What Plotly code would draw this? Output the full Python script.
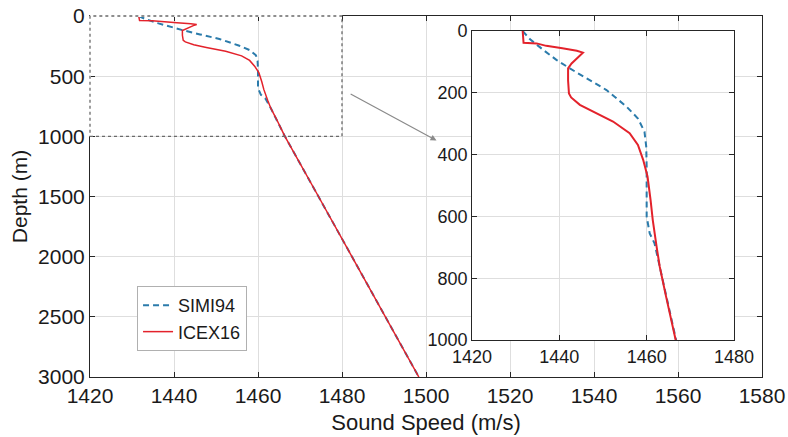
import plotly.graph_objects as go

# ---- data ----
depth_icex = [0, 38, 40, 48, 56, 64, 70, 80, 105, 121, 160, 202, 215, 239, 261, 293, 331, 369,
              417, 471, 547, 612, 700, 763, 850, 1000, 1500, 2000, 2500, 3000]
speed_icex = [1431.6, 1431.8, 1434.8, 1437.0, 1440.7, 1444.0, 1445.4, 1444.6, 1442.8, 1442.0,
              1442.0, 1442.2, 1442.7, 1444.7, 1447.7, 1452.3, 1456.1, 1458.0, 1459.2, 1460.2,
              1460.9, 1461.4, 1462.3, 1463.0, 1464.3, 1466.4, 1474.4, 1482.3, 1490.3, 1498.3]

depth_simi = [0, 27, 61, 94, 121, 153, 191, 245, 283, 326, 374, 439, 547, 601, 655, 687, 763,
              1000, 1500, 2000, 2500, 3000]
speed_simi = [1431.6, 1433.3, 1436.3, 1439.4, 1442.4, 1446.2, 1450.8, 1455.4, 1458.0, 1459.5,
              1459.9, 1460.0, 1460.1, 1460.0, 1460.7, 1461.8, 1463.0, 1466.4, 1474.4, 1482.3,
              1490.3, 1498.3]

main_xticks = [1420, 1440, 1460, 1480, 1500, 1520, 1540, 1560, 1580]
main_yticks = [0, 500, 1000, 1500, 2000, 2500, 3000]
inset_xticks = [1420, 1440, 1460, 1480]
inset_yticks = [0, 200, 400, 600, 800, 1000]

zoom_box_x = [1420, 1480]
zoom_box_y = [0, 1000]

BLUE = "#2b7bab"
RED = "#e3222b"
FONT = "Liberation Sans, Arial, sans-serif"
AX = "#262626"
GRID = "#dedede"

fig = go.Figure()

fig.add_trace(go.Scatter(x=speed_simi, y=depth_simi, mode="lines", name="SIMI94",
                         line=dict(color=BLUE, width=2, dash="6px,4px"),
                         xaxis="x", yaxis="y"))
fig.add_trace(go.Scatter(x=speed_icex, y=depth_icex, mode="lines", name="ICEX16",
                         line=dict(color=RED, width=1.5),
                         xaxis="x", yaxis="y"))
fig.add_trace(go.Scatter(x=speed_simi, y=depth_simi, mode="lines", name="SIMI94",
                         line=dict(color=BLUE, width=2, dash="6px,4px"),
                         xaxis="x2", yaxis="y2", showlegend=False))
fig.add_trace(go.Scatter(x=speed_icex, y=depth_icex, mode="lines", name="ICEX16",
                         line=dict(color=RED, width=2),
                         xaxis="x2", yaxis="y2", showlegend=False))

common = dict(showline=True, linecolor=AX, linewidth=1, mirror="ticks",
              ticks="inside", ticklen=5, tickcolor=AX, automargin=False,
              showgrid=True, gridcolor=GRID, gridwidth=1, zeroline=False)

fig.update_layout(
    width=788, height=437,
    margin=dict(l=90, r=26, t=16, b=60),
    paper_bgcolor="white", plot_bgcolor="white",
    font=dict(family=FONT, color="#1a1a1a"),
    showlegend=True,
    legend=dict(x=0.07, y=0.252, xanchor="left", yanchor="top",
                bgcolor="white", bordercolor="#b0b0b0", borderwidth=1,
                font=dict(size=18, family=FONT), itemwidth=30, tracegroupgap=0),
    xaxis=dict(domain=[0, 1], range=[1420, 1580], tickvals=main_xticks,
               title=dict(text="Sound Speed (m/s)", font=dict(size=22), standoff=8),
               tickfont=dict(size=21), **common),
    yaxis=dict(domain=[0, 1], range=[3000, 0], tickvals=main_yticks,
               title=dict(text="Depth (m)", font=dict(size=21), standoff=4),
               tickfont=dict(size=21), **common),
    xaxis2=dict(domain=[0.5685, 0.9583], anchor="y2", range=[1420, 1480],
                tickvals=inset_xticks, tickfont=dict(size=18), **common),
    yaxis2=dict(domain=[0.1025, 0.9584], anchor="x2", range=[1000, 0],
                tickvals=inset_yticks, tickfont=dict(size=18), **common),
)

# zoom box (dotted), drawn over the main axis frame
fx0 = (zoom_box_x[0] - 1420) / 160
fx1 = (zoom_box_x[1] - 1420) / 160
fy0 = 1 - zoom_box_y[0] / 3000
fy1 = 1 - zoom_box_y[1] / 3000
fig.add_shape(type="line", xref="paper", yref="paper", x0=fx0, x1=fx1, y0=fy0, y1=fy0,
              line=dict(color="white", width=2), layer="above")
fig.add_shape(type="line", xref="paper", yref="paper", x0=fx0, x1=fx0, y0=fy0, y1=fy1,
              line=dict(color="white", width=2), layer="above")
fig.add_shape(type="rect", xref="paper", yref="paper", x0=fx0, x1=fx1, y0=fy1, y1=fy0,
              line=dict(color="#6a6a6a", width=1.3, dash="dot"), layer="above")

# arrow from zoom box to inset
fig.add_annotation(x=1502.5, y=1035, xref="x", yref="y", ax=1481.7, ay=642,
                   axref="x", ayref="y", text="", showarrow=True,
                   arrowhead=2, arrowsize=1, arrowwidth=1.2, arrowcolor="#8a8a8a")

fig.write_html("out.html")
